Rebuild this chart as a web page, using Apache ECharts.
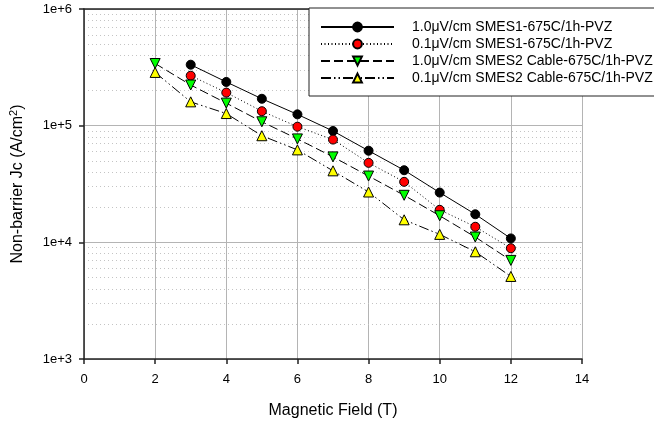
<!DOCTYPE html>
<html>
<head>
<meta charset="utf-8">
<script src="https://cdn.jsdelivr.net/npm/echarts@6/dist/echarts.min.js"></script>
<style>html,body{margin:0;padding:0;background:#fff;}#c{width:654px;height:424px;}</style>
</head>
<body>
<div id="c"></div>
<script>
// ---- data ----
var seriesNames = [
  '1.0\u03bcV/cm SMES1-675C/1h-PVZ',
  '0.1\u03bcV/cm SMES1-675C/1h-PVZ',
  '1.0\u03bcV/cm SMES2 Cable-675C/1h-PVZ',
  '0.1\u03bcV/cm SMES2 Cable-675C/1h-PVZ'
];
var fieldSmes1 = [3, 4, 5, 6, 7, 8, 9, 10, 11, 12];
var fieldSmes2 = [2, 3, 4, 5, 6, 7, 8, 9, 10, 11, 12];
var jcSmes1_10 = [333000, 237000, 170000, 125000, 90000, 61000, 41500, 26700, 17400, 10800];
var jcSmes1_01 = [268000, 192000, 133000, 98000, 76000, 48000, 33000, 19000, 13600, 8900];
var jcSmes2_10 = [341000, 223000, 156000, 108000, 77000, 54000, 37000, 25300, 16900, 11100, 7000];
var jcSmes2_01 = [286000, 160000, 127000, 82000, 62000, 41000, 27000, 15600, 11700, 8300, 5100];
var xTickLabels = ['0', '2', '4', '6', '8', '10', '12', '14'];
var yTickLabels = ['1e+3', '1e+4', '1e+5', '1e+6'];
var minorMultipliers = [2, 3, 4, 5, 6, 7, 8, 9];
var minorDecades = [1000, 10000, 100000];

function pairs(xs, ys) { return xs.map(function (x, i) { return [x, ys[i]]; }); }
var minorLines = [];
minorDecades.forEach(function (d) {
  minorMultipliers.forEach(function (m) { minorLines.push({ yAxis: d * m }); });
});

var FONT = 'Liberation Sans, Arial, sans-serif';
var chart = echarts.init(document.getElementById('c'), null, { renderer: 'canvas' });
var markerBorder = { borderColor: '#000', borderWidth: 1 };

chart.setOption({
  animation: false,
  backgroundColor: '#fff',
  textStyle: { fontFamily: FONT },
  grid: { left: 82, right: 72, top: 9, bottom: 65 },
  legend: {
    orient: 'vertical',
    left: 309, top: 8,
    data: seriesNames,
    itemWidth: 73, itemHeight: 11, itemGap: 3,
    padding: [12, 30, 11, 11],
    backgroundColor: '#fff',
    borderColor: '#222', borderWidth: 1,
    textStyle: { fontFamily: FONT, fontSize: 14, color: '#000', padding: [0, 0, 0, 13] }
  },
  xAxis: [{
    type: 'value', min: 0, max: 14, interval: 2,
    name: 'Magnetic Field (T)', nameLocation: 'middle', nameGap: 44,
    nameTextStyle: { fontFamily: FONT, fontSize: 16, color: '#000' },
    axisLine: { show: true, onZero: false, lineStyle: { color: '#222', width: 1.5 } },
    axisTick: { show: true, inside: false, length: 5, lineStyle: { color: '#222', width: 1.5 } },
    axisLabel: { fontFamily: FONT, fontSize: 13, color: '#000', margin: 14,
      formatter: function (v) { return xTickLabels[Math.round(v / 2)]; } },
    splitLine: { show: true, lineStyle: { color: '#b4b4b4', width: 1 } }
  }, {
    type: 'value', min: 0, max: 14, position: 'top',
    axisLine: { show: true, lineStyle: { color: '#222', width: 1.5 } },
    axisTick: { show: false }, axisLabel: { show: false }, splitLine: { show: false }
  }],
  yAxis: {
    type: 'log', logBase: 10, min: 1000, max: 1000000, interval: 1,
    name: 'Non-barrier Jc (A/cm{sup|2})', nameLocation: 'middle', nameGap: 57, nameRotate: 90,
    nameTextStyle: { fontFamily: FONT, fontSize: 16, color: '#000',
      rich: { sup: { fontFamily: FONT, fontSize: 11, color: '#000', verticalAlign: 'bottom', padding: [0, 0, 8, 0] } } },
    axisLine: { show: true, lineStyle: { color: '#222', width: 1.5 } },
    axisTick: { show: true, inside: false, length: 5, lineStyle: { color: '#222', width: 1.5 } },
    axisLabel: { fontFamily: FONT, fontSize: 13, color: '#000', margin: 12,
      formatter: function (v) { return yTickLabels[Math.round(Math.log10(v)) - 3]; } },
    splitLine: { show: true, lineStyle: { color: '#b4b4b4', width: 1 } },
    minorTick: { show: false }, minorSplitLine: { show: false }
  },
  series: [
    {
      type: 'line', data: [], silent: true, z: 0,
      markLine: {
        silent: true, symbol: 'none', z: 0, animation: false,
        label: { show: false },
        lineStyle: { color: '#c4c4c4', width: 1, type: [1, 3] },
        emphasis: { disabled: true },
        data: minorLines
      }
    },
    {
      name: seriesNames[0], type: 'line', data: pairs(fieldSmes1, jcSmes1_10),
      symbol: 'circle', symbolSize: 9,
      lineStyle: { color: '#000', width: 1, type: 'solid' },
      itemStyle: Object.assign({ color: '#000' }, markerBorder)
    },
    {
      name: seriesNames[1], type: 'line', data: pairs(fieldSmes1, jcSmes1_01),
      symbol: 'circle', symbolSize: 9,
      lineStyle: { color: '#000', width: 1, type: [1, 2.5] },
      itemStyle: Object.assign({ color: '#ff0000' }, markerBorder)
    },
    {
      name: seriesNames[2], type: 'line', data: pairs(fieldSmes2, jcSmes2_10),
      symbol: 'triangle', symbolSize: 10, symbolRotate: 180,
      lineStyle: { color: '#000', width: 1, type: [9, 4] },
      itemStyle: Object.assign({ color: '#00ff00' }, markerBorder)
    },
    {
      name: seriesNames[3], type: 'line', data: pairs(fieldSmes2, jcSmes2_01),
      symbol: 'triangle', symbolSize: 10,
      lineStyle: { color: '#000', width: 1, type: [10, 3, 1.5, 3, 1.5, 3] },
      itemStyle: Object.assign({ color: '#ffff00' }, markerBorder)
    }
  ]
});
</script>
</body>
</html>
